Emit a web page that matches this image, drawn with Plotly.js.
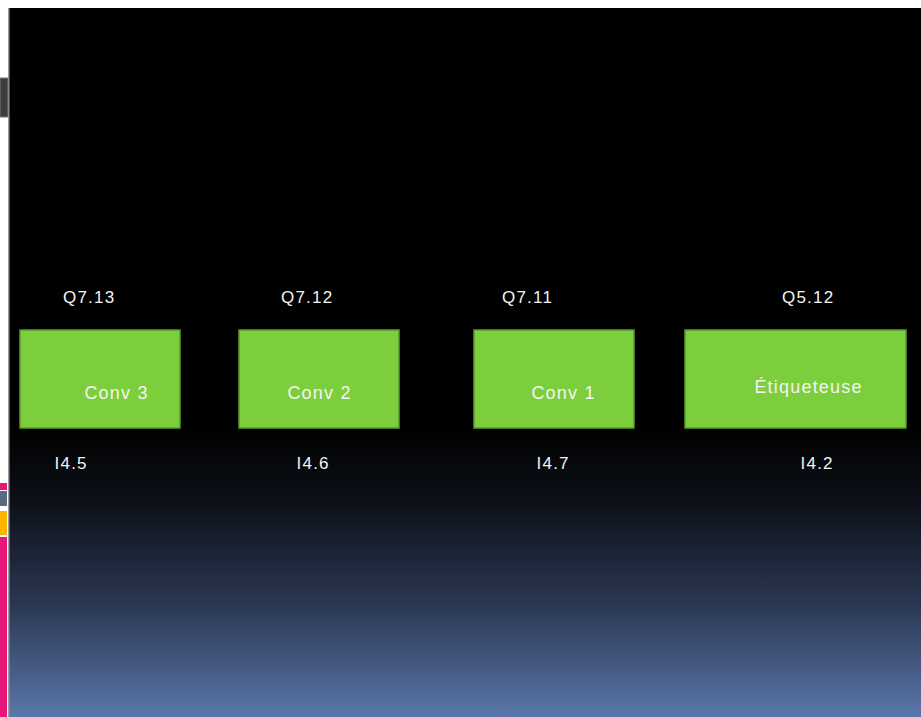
<!DOCTYPE html>
<html>
<head>
<meta charset="utf-8">
<script src="https://cdn.plot.ly/plotly-3.0.1.min.js"></script>
<style>
  html, body { margin: 0; padding: 0; background: #ffffff; }
  #wrap { position: relative; width: 921px; height: 717px; overflow: hidden; background: #ffffff; }
  #bg { position: absolute; left: 9px; top: 8px; width: 912px; height: 709px;
        background: linear-gradient(to bottom, #000000 0%, #000000 59%, #0d1119 70%, #2a3752 84%, #5a76aa 100%); }
  #chart { position: absolute; left: 0; top: 0; width: 921px; height: 717px; }
  #chart .annotation-text { letter-spacing: 1.2px; }
</style>
</head>
<body>
<div id="wrap">
  <div id="bg"></div>
  <div id="chart"></div>
</div>
<script>
// ---- data ----
const stations = ['Conv 3', 'Conv 2', 'Conv 1', 'Étiqueteuse'];
const outputs  = ['Q7.13', 'Q7.12', 'Q7.11', 'Q5.12'];
const inputs   = ['I4.5', 'I4.6', 'I4.7', 'I4.2'];

// ---- layout (pixel positions, styles) ----
const boxLeft   = [20, 239, 474, 685];
const boxRight  = [180, 399, 634, 906];
const boxTop = 330, boxBottom = 428;
const nameX  = [116, 319, 563, 808];
const nameY  = [393, 393, 393, 387];
const outX   = [89, 307, 527, 808];
const outY   = 297;
const inX    = [71, 313, 553, 817];
const inY    = 463;

const GREEN = '#7dce3c';
const FONT = 'Liberation Sans, Arial, sans-serif';

const shapes = [];
stations.forEach((s, i) => {
  shapes.push({type: 'rect', xref: 'x', yref: 'y', x0: boxLeft[i], x1: boxRight[i], y0: boxTop, y1: boxBottom,
    fillcolor: GREEN, line: {color: '#5b9a2c', width: 1.5}, layer: 'above'});
});
// left-edge slide decorations
shapes.push({type: 'rect', xref: 'x', yref: 'y', x0: 8, x1: 9.5, y0: 8, y1: 717, fillcolor: '#9a9a9a', line: {width: 0}});
shapes.push({type: 'rect', xref: 'x', yref: 'y', x0: 0, x1: 8, y0: 78, y1: 117, fillcolor: '#3c3c3c', line: {color: '#777', width: 1}});
shapes.push({type: 'rect', xref: 'x', yref: 'y', x0: 0, x1: 7, y0: 483, y1: 490, fillcolor: '#e8177a', line: {width: 0}});
shapes.push({type: 'rect', xref: 'x', yref: 'y', x0: 0, x1: 7, y0: 491, y1: 506, fillcolor: '#5a6a80', line: {width: 0}});
shapes.push({type: 'rect', xref: 'x', yref: 'y', x0: 0, x1: 7, y0: 511, y1: 535, fillcolor: '#fbb400', line: {width: 0}});
shapes.push({type: 'rect', xref: 'x', yref: 'y', x0: 0, x1: 7, y0: 537, y1: 717, fillcolor: '#e8177a', line: {width: 0}});

const annotations = [];
stations.forEach((s, i) => {
  annotations.push({x: nameX[i], y: nameY[i], xref: 'x', yref: 'y', text: s, showarrow: false,
    font: {family: FONT, size: 18, color: '#f4f4f0'}});
  annotations.push({x: outX[i], y: outY, xref: 'x', yref: 'y', text: outputs[i], showarrow: false,
    font: {family: FONT, size: 17, color: '#f4f4f0'}});
  annotations.push({x: inX[i], y: inY, xref: 'x', yref: 'y', text: inputs[i], showarrow: false,
    font: {family: FONT, size: 17, color: '#f4f4f0'}});
});

const layout = {
  width: 921, height: 717,
  margin: {l: 0, r: 0, t: 0, b: 0},
  paper_bgcolor: 'rgba(0,0,0,0)',
  plot_bgcolor: 'rgba(0,0,0,0)',
  showlegend: false,
  xaxis: {range: [0, 921], visible: false, fixedrange: true},
  yaxis: {range: [717, 0], visible: false, fixedrange: true},
  shapes: shapes,
  annotations: annotations
};

Plotly.newPlot('chart', [{x: [], y: [], type: 'scatter', mode: 'markers', hoverinfo: 'skip'}], layout,
  {displayModeBar: false, staticPlot: true});
</script>
</body>
</html>
